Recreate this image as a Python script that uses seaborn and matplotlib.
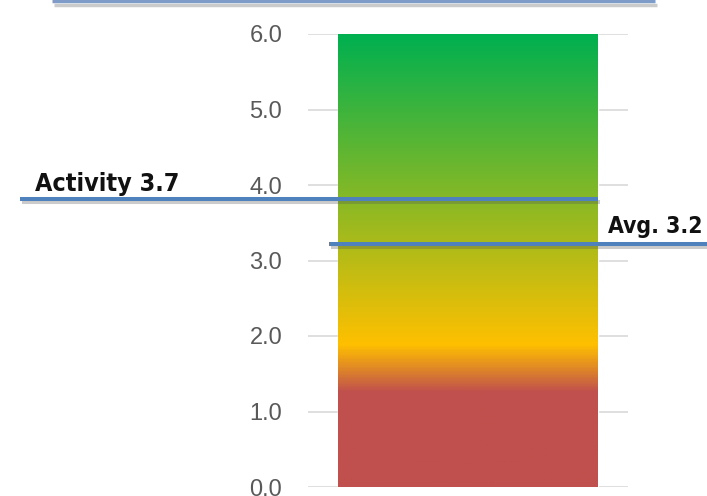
import matplotlib
matplotlib.use('Agg')
import matplotlib.pyplot as plt
import matplotlib.patheffects as pe
from matplotlib import font_manager
from matplotlib.colors import LinearSegmentedColormap
import seaborn as sns
import numpy as np
import pandas as pd

# data
categories = ['Score']
bar_values = [6.0]
activity_score = 3.7
activity_line_at = 3.82   # where the marker line is drawn
avg_score = 3.2
avg_line_at = 3.22
yticks = [0.0, 1.0, 2.0, 3.0, 4.0, 5.0, 6.0]
grad_stops = [0.0, 1.25, 1.88, 6.0]
grad_colors = ['#C0504D', '#C0504D', '#FFC000', '#00B050']

sns.set_theme(style='white')
plt.rcParams['font.family'] = ['Liberation Sans', 'DejaVu Sans']


def weight_of(f):
    w = f.weight
    if isinstance(w, str):
        w = font_manager.weight_dict.get(w, 400)
    return w


# look for a bold condensed face for the marker labels
cond = [f for f in font_manager.fontManager.ttflist
        if f.stretch in ('condensed', 'semi-condensed', 'extra-condensed', 500, 600, 700)
        and weight_of(f) >= 600 and 'CJK' not in f.name and 'Mono' not in f.name
        and f.style == 'normal']
if cond:
    act_fp = font_manager.FontProperties(fname=cond[0].fname, size=18)
    avg_fp = font_manager.FontProperties(fname=cond[0].fname, size=16.5)
else:
    act_fp = font_manager.FontProperties(family='Roboto', weight='bold', size=17)
    avg_fp = font_manager.FontProperties(family='Roboto', weight='bold', size=15.5)

fig = plt.figure(figsize=(7.07, 4.96), dpi=100)
ax = fig.add_axes([308/707, 9/496, 320/707, 453/496])

df = pd.DataFrame({'cat': categories, 'val': bar_values})
sns.barplot(data=df, x='cat', y='val', ax=ax, width=0.8125, color='#00B050',
            saturation=1, zorder=2)

# gradient fill clipped to the bar
bar = ax.patches[0]
x0 = bar.get_x()
x1 = x0 + bar.get_width()
top = bar.get_height()
cmap = LinearSegmentedColormap.from_list(
    'score', list(zip([s / top for s in grad_stops], grad_colors)))
grad = np.linspace(0, top, 400).reshape(-1, 1)
im = ax.imshow(grad, cmap=cmap, vmin=0, vmax=top, origin='lower',
               extent=[x0, x1, 0, top], aspect='auto', zorder=3)
im.set_clip_path(bar)

ax.set_xlim(-0.5, 0.5)
ax.set_ylim(0, 6)
ax.set_yticks(yticks)
ax.set_yticklabels(['{0:.1f}'.format(t) for t in yticks])
ax.set_xticks([])
ax.set_xlabel('')
ax.set_ylabel('')
ax.yaxis.grid(True, color='#D9D9D9', lw=1.2)
ax.set_axisbelow(True)
for s in ax.spines.values():
    s.set_visible(False)
ax.tick_params(axis='y', length=0, pad=18.5, labelsize=17, labelcolor='#595959')

trans = ax.get_yaxis_transform()
blue = '#4F81BD'
shadow = [pe.SimpleLineShadow(offset=(1.5, -2.5), alpha=0.3, shadow_color='#555555'),
          pe.Normal()]

# top border line
ax.plot([-0.8, 1.084], [6.435, 6.435], transform=trans, clip_on=False, color='#7F9CC8',
        lw=2.5, solid_capstyle='butt', path_effects=shadow, zorder=5)

# activity marker
ax.plot([-0.9, 0.906], [activity_line_at] * 2, transform=trans, clip_on=False,
        color=blue, lw=2.9, solid_capstyle='butt', path_effects=shadow, zorder=5)
ax.text(-0.627, 3.92, 'Activity {0:.1f}'.format(activity_score), transform=trans,
        ha='center', va='baseline', fontproperties=act_fp, color='#111111')

# average marker
ax.plot([0.066, 1.25], [avg_line_at] * 2, transform=trans, clip_on=False,
        color=blue, lw=2.9, solid_capstyle='butt', path_effects=shadow, zorder=5)
ax.text(1.234, 3.36, 'Avg. {0:.1f}'.format(avg_score), transform=trans,
        ha='right', va='baseline', fontproperties=avg_fp, color='#111111')

fig.savefig('out.png', dpi=100)
